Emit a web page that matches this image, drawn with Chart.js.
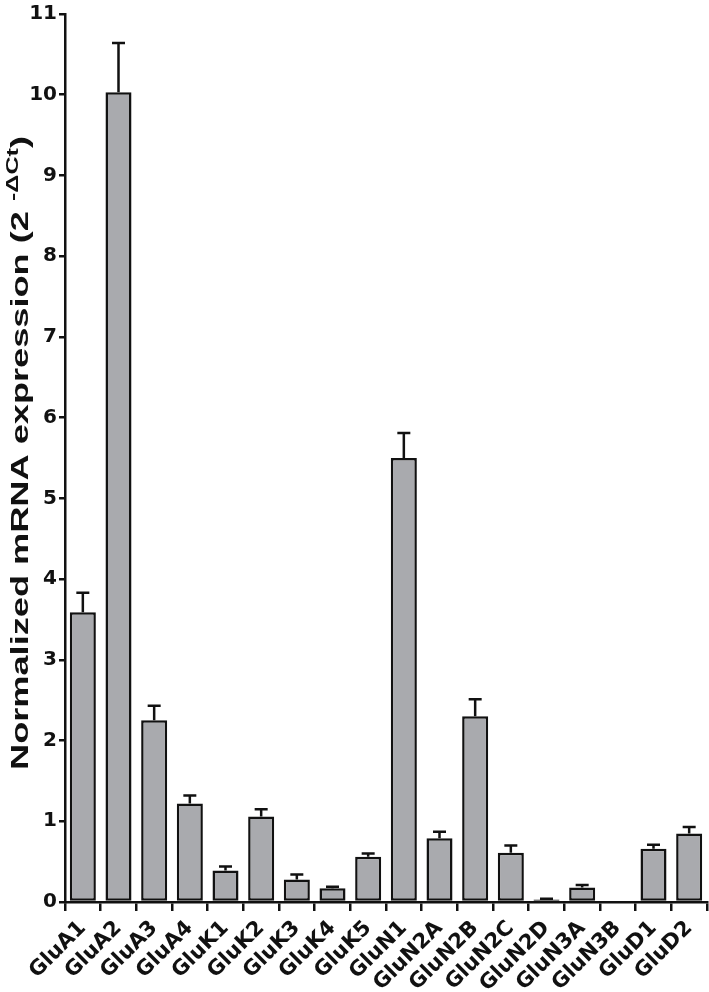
<!DOCTYPE html>
<html>
<head>
<meta charset="utf-8">
<script src="https://cdn.jsdelivr.net/npm/chart.js@4"></script>
<style>
  html, body { margin: 0; padding: 0; background: #fff; }
  #wrap { width: 709px; height: 992px; }
</style>
</head>
<body>
<div id="wrap"><canvas id="chart"></canvas></div>
<script>
const genes = ['GluA1', 'GluA2', 'GluA3', 'GluA4', 'GluK1', 'GluK2', 'GluK3', 'GluK4', 'GluK5',
  'GluN1', 'GluN2A', 'GluN2B', 'GluN2C', 'GluN2D', 'GluN3A', 'GluN3B', 'GluD1', 'GluD2'];
const expression = [3.59, 10.03, 2.25, 1.22, 0.39, 1.06, 0.28, 0.17, 0.56,
  5.50, 0.79, 2.30, 0.61, 0.03, 0.18, 0, 0.66, 0.85];
const errorTop = [3.83, 10.64, 2.43, 1.32, 0.44, 1.15, 0.34, 0.19, 0.60,
  5.81, 0.87, 2.51, 0.70, 0.04, 0.21, 0, 0.71, 0.93];
const yTicks = [0, 1, 2, 3, 4, 5, 6, 7, 8, 9, 10, 11];

const FONT = '"DejaVu Sans", Arial, sans-serif';
const TITLE_FONT = 'Arial, "Liberation Sans", sans-serif';

// upward-only error bars
const errorBars = {
  id: 'errorBars',
  afterDatasetsDraw(chart) {
    const ctx = chart.ctx;
    const y = chart.scales.y;
    const meta = chart.getDatasetMeta(0);
    ctx.save();
    ctx.strokeStyle = '#111';
    ctx.lineWidth = 2.5;
    meta.data.forEach((bar, i) => {
      if (errorTop[i] <= expression[i]) return;
      const y0 = y.getPixelForValue(expression[i]);
      const y1 = y.getPixelForValue(errorTop[i]);
      ctx.beginPath();
      ctx.moveTo(bar.x, y0);
      ctx.lineTo(bar.x, y1);
      ctx.moveTo(bar.x - 6.5, y1);
      ctx.lineTo(bar.x + 6.5, y1);
      ctx.stroke();
    });
    ctx.restore();
  }
};

// y title with superscript, stretched a little like the original
const yTitle = {
  id: 'yTitle',
  afterDraw(chart) {
    const ctx = chart.ctx;
    const area = chart.chartArea;
    const main = 'Normalized mRNA expression (2 ';
    const sup = '-\u0394Ct';
    const close = ')';
    ctx.save();
    ctx.fillStyle = '#111';
    ctx.textBaseline = 'alphabetic';
    ctx.font = 'bold 23px ' + TITLE_FONT;
    const w1 = ctx.measureText(main).width;
    const w3 = ctx.measureText(close).width;
    ctx.font = 'bold 16px ' + TITLE_FONT;
    const w2 = ctx.measureText(sup).width;
    const total = w1 + w2 + w3;
    const stretch = 634 / total;
    ctx.translate(28, (area.top + area.bottom) / 2 - 5);
    ctx.rotate(-Math.PI / 2);
    ctx.scale(stretch, 1);
    let x = -total / 2;
    ctx.font = 'bold 23px ' + TITLE_FONT;
    ctx.fillText(main, x, 0);
    x += w1;
    ctx.font = 'bold 16px ' + TITLE_FONT;
    ctx.fillText(sup, x, -10);
    x += w2;
    ctx.font = 'bold 23px ' + TITLE_FONT;
    ctx.fillText(close, x, 0);
    ctx.restore();
  }
};

new Chart(document.getElementById('chart'), {
  type: 'bar',
  data: {
    labels: genes,
    datasets: [{
      data: expression,
      backgroundColor: '#a9aaae',
      borderColor: '#111',
      borderWidth: 2.5,
      borderSkipped: false,
      barPercentage: 0.73,
      categoryPercentage: 1
    }]
  },
  options: {
    responsive: true,
    maintainAspectRatio: false,
    animation: false,
    layout: { padding: { top: 12, right: 2, left: 0, bottom: 0 } },
    plugins: { legend: { display: false }, tooltip: { enabled: false } },
    scales: {
      x: {
        grid: { drawOnChartArea: false, color: '#111', lineWidth: 2.5, tickLength: 9, offset: true },
        border: { color: '#111', width: 2.5 },
        ticks: {
          color: '#111',
          font: { family: FONT, size: 21, weight: 'bold' },
          autoSkip: false,
          minRotation: 45,
          maxRotation: 45,
          padding: 5
        },
        afterFit(scale) {
          scale.height = 90;
          scale.paddingLeft = 0;
          scale.paddingRight = 0;
        }
      },
      y: {
        min: 0,
        max: 11,
        afterBuildTicks(scale) { scale.ticks = yTicks.map(v => ({ value: v })); },
        grid: { drawOnChartArea: false, color: '#111', lineWidth: 2.5, tickLength: 6 },
        border: { color: '#111', width: 2.5 },
        ticks: {
          color: '#111',
          font: { family: FONT, size: 20, weight: 'bold' },
          padding: 2
        },
        afterFit(scale) { scale.width = 65; }
      }
    }
  },
  plugins: [errorBars, yTitle]
});
</script>
</body>
</html>
